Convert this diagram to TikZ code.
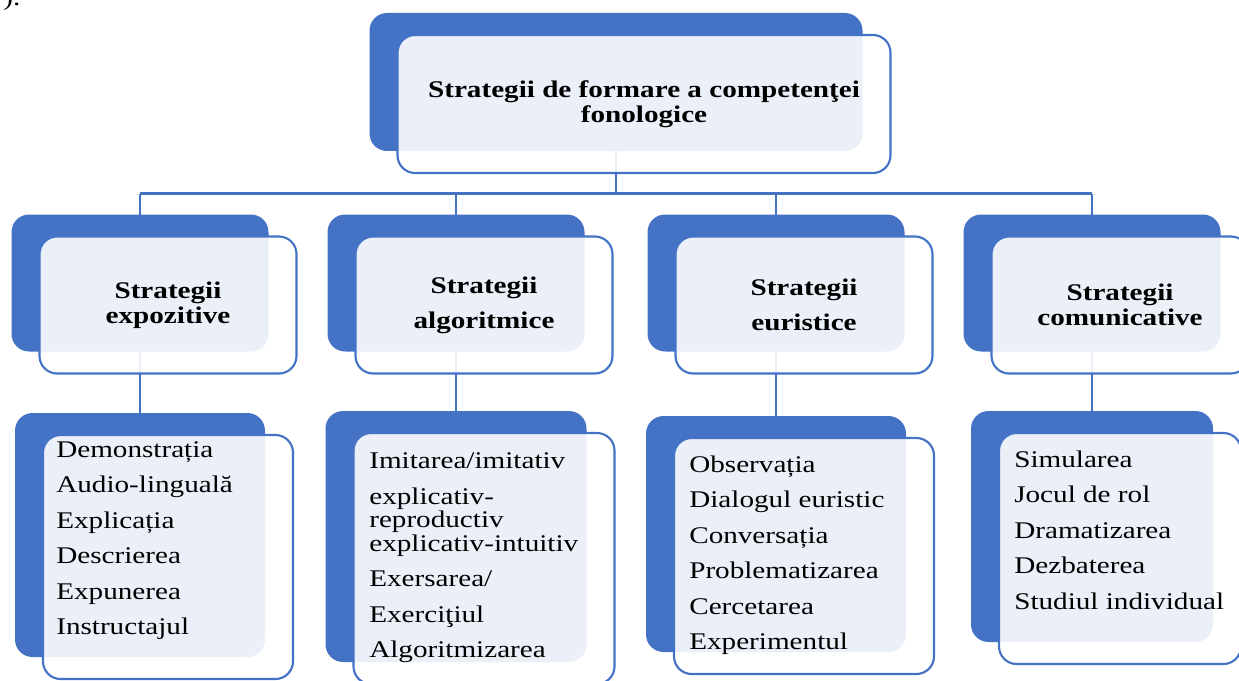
\documentclass[tikz,border=0pt]{standalone}
\usepackage{fontspec}
\setmainfont{Liberation Serif}[FakeStretch=1.22]
\definecolor{stratblue}{RGB}{68, 114, 196}
\usetikzlibrary{positioning, backgrounds}
\tikzset{
    backbox/.style={fill=stratblue, rounded corners=10pt, inner sep=0pt},
    frontbox/.style={draw=stratblue, line width=1.2pt, fill=white,
        fill opacity=.89, text opacity=1, rounded corners=10pt,
        inner sep=0pt, align=center, on grid,
        font=\fontsize{13.6}{14}\selectfont\bfseries},
    items/.style={inner sep=0pt, align=left,
        font=\fontsize{13.6}{20.2}\selectfont},
    link/.style={draw=stratblue, line width=1.4pt},
    midsize/.style={minimum width=5.14cm, minimum height=2.74cm},
}

\begin{document}
\begin{tikzpicture}
    \useasboundingbox (0, 0) rectangle (24.78, -13.6);
    \clip (0, 0) rectangle (24.78, -13.6);
    \node[anchor=base west, inner sep=0pt, font=\fontsize{13.6}{14}\selectfont]
        (prev) at (.06, -.12) {).};
    % top box
    \node[backbox, minimum width=9.86cm, minimum height=2.76cm]
        (topback) at (12.32, -1.64) {};
    \node[frontbox, minimum width=9.86cm, minimum height=2.76cm,
        below right=.44cm and .56cm of topback]
        (top) {Strategii de formare a competenţei\\fonologice};
    % second row
    \node[backbox, midsize] (expback) at (2.80, -5.66) {};
    \node[frontbox, midsize, below right=.44cm and .56cm of expback]
        (exp) {Strategii\\expozitive};
    \node[backbox, midsize] (algback) at (9.12, -5.66) {};
    \node[frontbox, midsize, below right=.44cm and .56cm of algback]
        (alg) {Strategii\\[6pt]algoritmice};
    \node[backbox, midsize] (eurback) at (15.52, -5.66) {};
    \node[frontbox, midsize, below right=.44cm and .56cm of eurback]
        (eur) {Strategii\\[6pt]euristice};
    \node[backbox, midsize] (comback) at (21.84, -5.66) {};
    \node[frontbox, midsize, below right=.44cm and .56cm of comback]
        (com) {Strategii\\comunicative};
    % third row
    \node[backbox, minimum width=5cm, minimum height=4.88cm]
        (expsubback) at (2.80, -10.70) {};
    \node[frontbox, minimum width=5cm, minimum height=4.88cm,
        below right=.44cm and .56cm of expsubback] (expsub) {};
    \node[items, below right=.14cm and .28cm of expsub.north west] (explist)
        {Demonstrația\\Audio-linguală\\Explicația\\Descrierea\\Expunerea\\
        Instructajul};
    \node[backbox, minimum width=5.22cm, minimum height=5.02cm]
        (algsubback) at (9.12, -10.73) {};
    \node[frontbox, minimum width=5.22cm, minimum height=5.02cm,
        below right=.44cm and .56cm of algsubback] (algsub) {};
    \node[items, below right=.41cm and .33cm of algsub.north west] (alglist)
        {Imitarea/imitativ\\explicativ-\\[-6.8pt]reproductiv\\[-6.8pt]
        explicativ-intuitiv\\Exersarea/\\Exerciţiul\\Algoritmizarea};
    \node[backbox, minimum width=5.2cm, minimum height=4.72cm]
        (eursubback) at (15.52, -10.68) {};
    \node[frontbox, minimum width=5.2cm, minimum height=4.72cm,
        below right=.44cm and .56cm of eursubback] (eursub) {};
    \node[items, below right=.37cm and .32cm of eursub.north west] (eurlist)
        {Observația\\Dialogul euristic\\Conversația\\Problematizarea\\
        Cercetarea\\Experimentul};
    \node[backbox, minimum width=4.84cm, minimum height=4.62cm]
        (comsubback) at (21.84, -10.53) {};
    \node[frontbox, minimum width=4.84cm, minimum height=4.62cm,
        below right=.44cm and .56cm of comsubback] (comsub) {};
    \node[items, below right=.37cm and .32cm of comsub.north west] (comlist)
        {Simularea\\Jocul de rol\\Dramatizarea\\Dezbaterea\\Studiul individual};
    % connectors, behind the boxes
    \begin{scope}[on background layer]
        \coordinate (bus) at (0, -3.87);
        \draw[link] (topback) -- (topback |- bus);
        \draw[link] (expback |- bus) -- (comback |- bus);
        \foreach \n in {exp, alg, eur, com}
            \draw[link] (\n back |- bus) -- (\n subback.center);
    \end{scope}
\end{tikzpicture}
\end{document}
